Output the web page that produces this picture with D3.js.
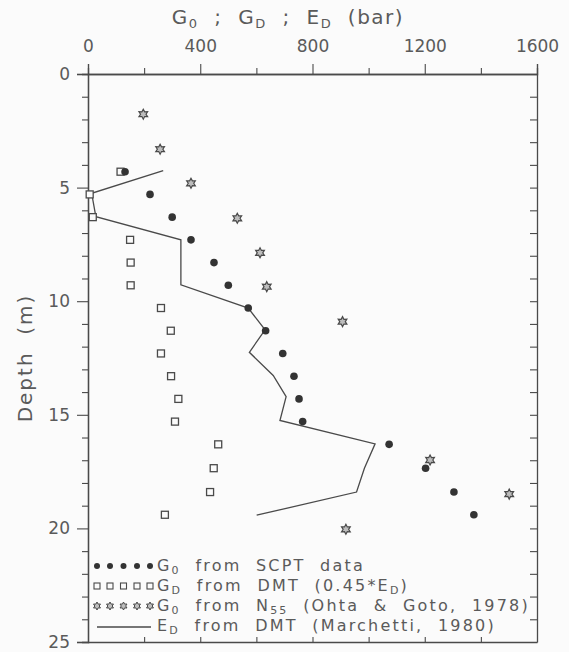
<!DOCTYPE html>
<html>
<head>
<meta charset="utf-8">
<script src="https://cdn.jsdelivr.net/npm/d3@7"></script>
<style>
  body { margin: 0; background: #fbfbfb; }
  svg { display: block; }
  text { font-family: "DejaVu Sans", sans-serif; fill: #5a5a5a; white-space: pre; }
</style>
</head>
<body>
<div id="canvas"></div>
<script>
// values (depth in m, moduli in bar)
const scptDepth = [4.3, 5.3, 6.3, 7.3, 8.3, 9.3, 10.3, 11.3, 12.3, 13.3, 14.3, 15.3, 16.3, 17.35, 18.4, 19.4];
const scptG0 = [132, 221, 300, 367, 449, 500, 571, 633, 694, 734, 752, 765, 1073, 1203, 1304, 1375];

const dmtDepth = [4.3, 5.3, 6.3, 7.3, 8.3, 9.3, 10.3, 11.3, 12.3, 13.3, 14.3, 15.3, 16.3, 17.35, 18.4, 19.4];
const dmtGD = [116, 6, 17, 150, 152, 152, 260, 295, 260, 296, 322, 310, 464, 448, 435, 274];

const edDepth = [4.25, 5.25, 6.28, 7.3, 8.3, 9.28, 10.3, 11.26, 12.25, 13.27, 14.2, 15.25, 16.28, 17.35, 18.4, 19.42];
const dmtED = [268, 13, 28, 331, 331, 331, 571, 631, 575, 660, 706, 684, 1023, 985, 957, 601];

const sptDepth = [1.77, 3.31, 4.81, 6.35, 7.87, 9.36, 10.9, 16.99, 18.49, 20.04];
const sptG0 = [197, 257, 367, 532, 613, 637, 907, 1219, 1501, 919];

const xMajor = [0, 400, 800, 1200, 1600];
const xMinor = [200, 600, 1000, 1400];
const yMajor = [0, 5, 10, 15, 20, 25];

const width = 569;
const height = 652;
const margin = { top: 74, left: 88, bottom: 10, right: 32 };
const ink = "#4a4a4a";

const svg = d3.select("#canvas").append("svg")
    .attr("width", width)
    .attr("height", height);

const x = d3.scaleLinear().domain([0, 1600]).range([margin.left, width - margin.right]);
const y = d3.scaleLinear().domain([0, 25]).range([margin.top, height - margin.bottom]);

// six pointed star outline
function starPath(r) {
    const pts = [];
    for (let i = 0; i < 12; i++) {
        const a = Math.PI / 6 * i - Math.PI / 2;
        const rr = i % 2 === 0 ? r : r * 0.55;
        pts.push([Math.cos(a) * rr, Math.sin(a) * rr]);
    }
    return "M" + pts.map(p => p.join(",")).join("L") + "Z";
}

function styleAxis(g) {
    g.selectAll(".domain").attr("stroke", ink).attr("stroke-width", 1.3);
    g.selectAll(".tick line").attr("stroke", ink).attr("stroke-width", 1.1);
    g.selectAll(".tick text").attr("fill", "#5a5a5a").style("font-size", "17px");
}

// top axis
svg.append("g")
    .attr("transform", `translate(0,${y(0)})`)
    .call(d3.axisTop(x).tickValues(xMajor).tickSize(10).tickPadding(12).tickFormat(d3.format("d")))
    .call(styleAxis);
svg.append("g")
    .attr("transform", `translate(0,${y(0)})`)
    .call(d3.axisTop(x).tickValues(xMinor).tickSize(6).tickFormat(""))
    .call(styleAxis);

// bottom axis, ticks pointing in
svg.append("g")
    .attr("transform", `translate(0,${y(25)})`)
    .call(d3.axisTop(x).tickValues(d3.range(200, 1600, 200)).tickSize(5).tickSizeOuter(0).tickFormat(""))
    .call(styleAxis);

// left axis
svg.append("g")
    .attr("transform", `translate(${x(0)},0)`)
    .call(d3.axisLeft(y).tickValues(yMajor).tickSize(11).tickPadding(7))
    .call(styleAxis);
svg.append("g")
    .attr("transform", `translate(${x(0)},0)`)
    .call(d3.axisLeft(y).tickValues(d3.range(1, 25).filter(d => d % 5)).tickSize(6).tickFormat(""))
    .call(styleAxis);

// right axis, ticks pointing in
svg.append("g")
    .attr("transform", `translate(${x(1600)},0)`)
    .call(d3.axisLeft(y).tickValues(d3.range(1, 25)).tickSize(7).tickSizeOuter(0).tickFormat(""))
    .call(styleAxis);

// title
const title = svg.append("text")
    .attr("x", 288)
    .attr("y", 24)
    .attr("text-anchor", "middle")
    .style("font-size", "20px")
    .style("letter-spacing", "1.5px");
title.append("tspan").text("G");
title.append("tspan").attr("dy", 4).style("font-size", "13px").text("0");
title.append("tspan").attr("dy", -4).text("  ;  G");
title.append("tspan").attr("dy", 4).style("font-size", "13px").text("D");
title.append("tspan").attr("dy", -4).text("  ;  E");
title.append("tspan").attr("dy", 4).style("font-size", "13px").text("D");
title.append("tspan").attr("dy", -4).text("  (bar)");

// y label
svg.append("text")
    .attr("transform", `translate(32,${y(12.5)}) rotate(-90)`)
    .attr("text-anchor", "middle")
    .style("font-size", "20px")
    .style("letter-spacing", "2px")
    .text("Depth  (m)");

// E_D line
const line = d3.line().x(d => x(d[1])).y(d => y(d[0]));
svg.append("path")
    .datum(d3.zip(edDepth, dmtED))
    .attr("d", line)
    .attr("fill", "none")
    .attr("stroke", ink)
    .attr("stroke-width", 1.3);

// G_D squares
svg.selectAll(".sq").data(d3.zip(dmtDepth, dmtGD)).enter().append("rect")
    .attr("class", "sq")
    .attr("x", d => x(d[1]) - 3.5)
    .attr("y", d => y(d[0]) - 3.5)
    .attr("width", 7)
    .attr("height", 7)
    .attr("fill", "#fbfbfb")
    .attr("stroke", ink)
    .attr("stroke-width", 1.3);

// SCPT circles
svg.selectAll(".dot").data(d3.zip(scptDepth, scptG0)).enter().append("circle")
    .attr("class", "dot")
    .attr("cx", d => x(d[1]))
    .attr("cy", d => y(d[0]))
    .attr("r", 3.8)
    .attr("fill", "#333");

// N55 stars
svg.selectAll(".star").data(d3.zip(sptDepth, sptG0)).enter().append("path")
    .attr("class", "star")
    .attr("transform", d => `translate(${x(d[1])},${y(d[0])})`)
    .attr("d", starPath(5))
    .attr("fill", "#bdbdbd")
    .attr("stroke", ink)
    .attr("stroke-width", 1.2);

// legend
const legY = [571, 591, 611, 631];
const legX = [97, 110, 123.5, 137, 150];
const leg = svg.append("g");

leg.selectAll("circle").data(legX).enter().append("circle")
    .attr("cx", d => d).attr("cy", legY[0] - 5).attr("r", 3).attr("fill", "#333");
leg.selectAll("rect").data(legX).enter().append("rect")
    .attr("x", d => d - 3).attr("y", legY[1] - 8).attr("width", 6).attr("height", 6)
    .attr("fill", "none").attr("stroke", ink).attr("stroke-width", 1.1);
leg.selectAll("path").data(legX).enter().append("path")
    .attr("transform", d => `translate(${d},${legY[2] - 5})`)
    .attr("d", starPath(4))
    .attr("fill", "#bdbdbd").attr("stroke", ink).attr("stroke-width", 1);
leg.append("line")
    .attr("x1", 97).attr("x2", 151).attr("y1", legY[3] - 4).attr("y2", legY[3] - 4)
    .attr("stroke", ink).attr("stroke-width", 1.3);

const legText = [
    [["G", ""], ["0", "sub"], ["  from  SCPT  data", ""]],
    [["G", ""], ["D", "sub"], ["  from  DMT  (0.45*E", ""], ["D", "sub"], [")", ""]],
    [["G", ""], ["0", "sub"], ["  from  N", ""], ["55", "sub"], ["  (Ohta  &  Goto,  1978)", ""]],
    [["E", ""], ["D", "sub"], ["  from  DMT  (Marchetti,  1980)", ""]]
];
legText.forEach((parts, i) => {
    const t = leg.append("text")
        .attr("x", 157)
        .attr("y", legY[i])
        .style("font-size", "16px")
        .style("letter-spacing", "2.2px");
    let inSub = false;
    parts.forEach(p => {
        const s = t.append("tspan").text(p[0]);
        if (p[1] === "sub") {
            s.attr("dy", 3).style("font-size", "11px");
            inSub = true;
        } else if (inSub) {
            s.attr("dy", -3);
            inSub = false;
        }
    });
});
</script>
</body>
</html>
